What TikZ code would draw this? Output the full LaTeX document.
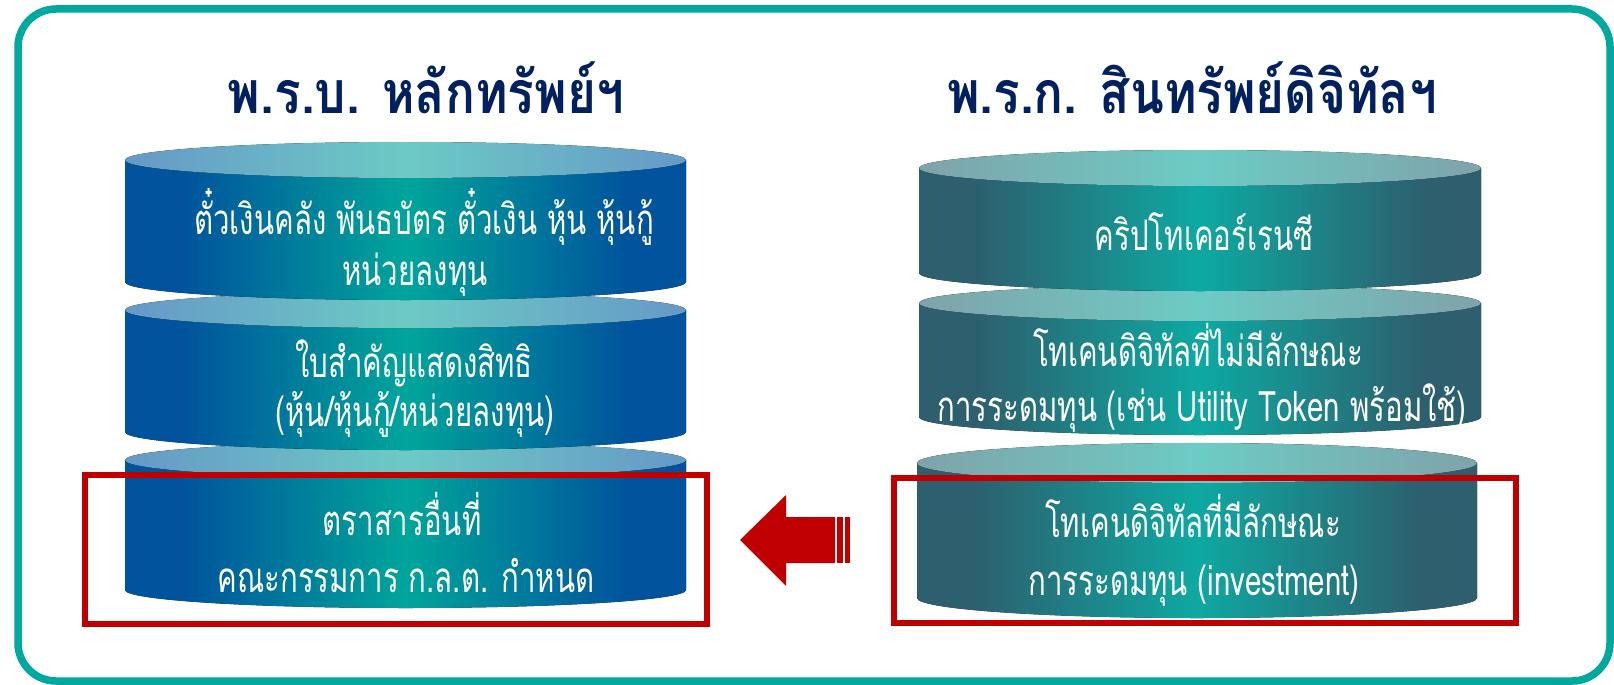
\documentclass[tikz,border=0pt]{standalone}
\usepackage{fontspec}
\newfontfamily\thaititle[Script=Thai,FakeStretch=0.84]{Loma}
\newfontfamily\thaibody[Script=Thai,FakeStretch=0.7]{Loma}
\definecolor{bord}{RGB}{0,169,157}
\definecolor{navy}{RGB}{0,32,96}
\definecolor{redb}{RGB}{192,0,0}
\definecolor{lbE}{RGB}{0,83,156}
\definecolor{lbC}{RGB}{0,165,155}
\definecolor{ltE}{RGB}{102,153,199}
\definecolor{ltC}{RGB}{108,202,196}
\definecolor{rbE}{RGB}{45,95,110}
\definecolor{rbC}{RGB}{14,169,162}
\definecolor{rtE}{RGB}{127,163,170}
\definecolor{rtC}{RGB}{109,203,197}
\pgfdeclarehorizontalshading{lbody}{100bp}{color(0bp)=(lbE); color(25bp)=(lbE); color(30bp)=(lbE); color(50bp)=(lbC); color(70bp)=(lbE); color(75bp)=(lbE); color(100bp)=(lbE)}
\pgfdeclarehorizontalshading{ltop}{100bp}{color(0bp)=(ltE); color(25bp)=(ltE); color(50bp)=(ltC); color(75bp)=(ltE); color(100bp)=(ltE)}
\pgfdeclarehorizontalshading{rbody}{100bp}{color(0bp)=(rbE); color(25bp)=(rbE); color(30bp)=(rbE); color(50bp)=(rbC); color(70bp)=(rbE); color(75bp)=(rbE); color(100bp)=(rbE)}
\pgfdeclarehorizontalshading{rtop}{100bp}{color(0bp)=(rtE); color(25bp)=(rtE); color(50bp)=(rtC); color(75bp)=(rtE); color(100bp)=(rtE)}
\newcommand\drawcyl[7]{%
  \fill[shading=#6] ({#1-#4},#2) -- ({#1-#4},#3) arc[start angle=180,end angle=0,x radius=#4,y radius=#5] -- ({#1+#4},#2) -- cycle;
  \fill[shading=#7] (#1,#2) ellipse[x radius=#4,y radius=#5];
}
\tikzset{
  bodytext/.style={text=white, font=\thaibody\fontsize{42}{48}\selectfont, anchor=base, inner sep=0pt},
  titletext/.style={text=navy, font=\thaititle\bfseries\fontsize{59}{64}\selectfont, anchor=base, inner sep=0pt},
  redbox/.style={draw=redb, line width=6pt},
  frame/.style={draw=bord, line width=7.5pt, rounded corners=38pt}
}
\begin{document}
\begin{tikzpicture}[x=1pt,y=-1pt]
\useasboundingbox (0,0) rectangle (1614,685);
\fill[white] (0,0) rectangle (1614,685);
\draw[frame] (18,9) rectangle (1610,681);
% left cylinders (bottom first)
\drawcyl{405.5}{460}{590}{280.5}{18}{lbody}{ltop}
\drawcyl{405.5}{310}{432}{280.5}{18}{lbody}{ltop}
\drawcyl{405.5}{160}{282}{280.5}{18}{lbody}{ltop}
% right cylinders
\drawcyl{1197}{463}{598}{280}{20}{rbody}{rtop}
\drawcyl{1200}{303}{417}{281}{18}{rbody}{rtop}
\drawcyl{1200}{168}{273}{281}{18}{rbody}{rtop}
% titles
\node[titletext] (tl) at (426,113) {พ.ร.บ. หลักทรัพย์ฯ};
\node[titletext] (tr) at (1192,113) {พ.ร.ก. สินทรัพย์ดิจิทัลฯ};
% left texts
\node[bodytext] (l1a) at (424,234) {ตั๋วเงินคลัง พันธบัตร ตั๋วเงิน หุ้น หุ้นกู้};
\node[bodytext] (l1b) at (415,285) {หน่วยลงทุน};
\node[bodytext] (l2a) at (414,377) {ใบสำคัญแสดงสิทธิ};
\node[bodytext] (l2b) at (415,426) {(หุ้น/หุ้นกู้/หน่วยลงทุน)};
\node[bodytext] (l3a) at (402,535) {ตราสารอื่นที่};
\node[bodytext] (l3b) at (406,592) {คณะกรรมการ ก.ล.ต. กำหนด};
% right texts
\node[bodytext] (r1) at (1204,250) {คริปโทเคอร์เรนซี};
\node[bodytext] (r2a) at (1198,366) {โทเคนดิจิทัลที่ไม่มีลักษณะ};
\node[bodytext] (r2b) at (1202,421) {การระดมทุน (เช่น Utility Token พร้อมใช้)};
\node[bodytext] (r3a) at (1193,537) {โทเคนดิจิทัลที่มีลักษณะ};
\node[bodytext] (r3b) at (1194,595) {การระดมทุน (investment)};
% red boxes
\draw[redbox] (85,475) rectangle (707,624);
\draw[redbox] (894,478) rectangle (1516,623);
% block arrow
\fill[redb] (740,540) -- (786,495) -- (786,517) -- (835,517) -- (835,563) -- (786,563) -- (786,586) -- cycle;
\fill[redb] (837,517) rectangle (843,563);
\fill[redb] (845,517) rectangle (850,563);
\end{tikzpicture}
\end{document}
